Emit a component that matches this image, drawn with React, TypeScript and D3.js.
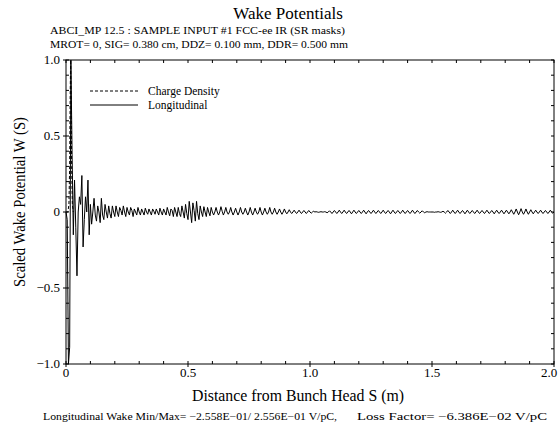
import React from 'react';
import * as d3 from 'd3';

const wakeStep = 0.005;
const wakeValues: number[] = [
  // 0.00 - 0.095
  0, -0.05, -1.0, -0.89, 1.0, 0.38, -0.15, 0.21, -0.1, -0.42, 0.0, 0.1, 0.05, 0.24, -0.23, -0.05, 0.1, 0.0, 0.21, -0.15,
  // 0.10 - 0.195
  0.05, -0.08, 0.0, 0.09, -0.02, -0.06, 0.04, 0.0, -0.07, 0.09, -0.02, -0.05, 0.05, 0.0, -0.04, 0.04, -0.01, -0.04, 0.04, 0.0,
  // 0.20 - 0.295
  -0.03, 0.04, 0.0, -0.03, 0.03, 0.01, -0.02, 0.04, 0.0, -0.03, 0.03, 0.0, -0.02, 0.03, 0.01, -0.03, 0.02, 0.0, -0.02, 0.03,
  // 0.30 - 0.395
  0.0, -0.02, 0.02, 0.0, -0.02, 0.025, 0.0, -0.015, 0.02, 0.0, -0.02, 0.02, 0.005, -0.015, 0.02, 0.0, -0.02, 0.025, 0.0, -0.02,
  // 0.40 - 0.495
  0.02, 0.0, -0.02, 0.03, 0.0, -0.025, 0.02, 0.01, -0.03, 0.03, 0.0, -0.03, 0.03, -0.01, -0.03, 0.04, 0.0, -0.04, 0.05, -0.01,
  // 0.50 - 0.595
  -0.05, 0.07, 0.0, -0.07, 0.06, 0.01, -0.06, 0.07, -0.01, -0.05, 0.04, 0.0, -0.03, 0.035, 0.0, -0.03, 0.03, 0.0, -0.025, 0.03,
  // 0.60 - 0.695
  0.0, -0.02, 0.0, 0.03, 0.0, -0.02, 0.0, 0.035, 0.005, -0.02, 0.0, 0.03, 0.0, -0.015, 0.0, 0.03, 0.0, -0.02, 0.0, 0.025,
  // 0.70 - 0.795
  0.0, -0.02, 0.0, 0.03, 0.0, -0.015, 0.0, 0.025, 0.0, -0.02, 0.0, 0.03, 0.0, -0.02, 0.0, 0.025, 0.0, -0.015, 0.0, 0.03,
  // 0.80 - 0.895
  0.0, -0.02, 0.0, 0.025, 0.0, -0.015, 0.0, 0.03, 0.0, -0.015, 0.0, 0.025, 0.0, -0.015, 0.0, 0.02, 0.0, -0.015, 0.0, 0.02,
  // 0.90 - 0.995
  0.0, -0.012, 0.0, 0.015, 0.0, -0.01, 0.0, 0.012, 0.0, -0.01, 0.0, 0.012, 0.0, -0.01, 0.0, 0.01, 0.0, -0.01, 0.0, 0.01,
  // 1.00 - 1.095
  0.0, -0.008, 0.0, 0.005, 0.0, 0.002, 0.0, -0.002, 0.0, 0.002, 0.0, 0.0, 0.002, 0.0, -0.005, 0.0, 0.008, 0.0, -0.01, 0.0,
  // 1.10 - 1.195
  0.01, 0.0, -0.01, 0.0, 0.012, 0.0, -0.01, 0.0, 0.012, 0.0, -0.01, 0.0, 0.01, 0.0, -0.012, 0.0, 0.012, 0.0, -0.01, 0.0,
  // 1.20 - 1.295
  0.01, 0.0, -0.01, 0.0, 0.012, 0.0, -0.012, 0.0, 0.01, 0.0, -0.01, 0.0, 0.012, 0.0, -0.01, 0.0, 0.01, 0.0, -0.01, 0.0,
  // 1.30 - 1.395
  0.012, 0.0, -0.01, 0.0, 0.01, 0.0, -0.012, 0.0, 0.012, 0.0, -0.01, 0.0, 0.01, 0.0, -0.01, 0.0, 0.012, 0.0, -0.01, 0.0,
  // 1.40 - 1.495
  0.01, 0.0, -0.01, 0.0, 0.012, 0.0, -0.01, 0.0, 0.01, 0.0, -0.008, 0.0, 0.008, 0.0, -0.005, 0.0, 0.002, 0.0, 0.0, 0.0,
  // 1.50 - 1.595
  0.0, 0.0, -0.002, 0.0, 0.0, 0.002, 0.0, -0.002, 0.0, 0.005, 0.0, -0.008, 0.0, 0.01, 0.0, -0.01, 0.0, 0.012, 0.0, -0.01,
  // 1.60 - 1.695
  0.0, 0.012, 0.0, -0.01, 0.0, 0.01, 0.0, -0.012, 0.0, 0.012, 0.0, -0.01, 0.0, 0.01, 0.0, -0.01, 0.0, 0.012, 0.0, -0.01,
  // 1.70 - 1.795
  0.0, 0.01, 0.0, -0.01, 0.0, 0.012, 0.0, -0.01, 0.0, 0.01, 0.0, -0.012, 0.0, 0.012, 0.0, -0.01, 0.0, 0.012, 0.0, -0.012,
  // 1.80 - 1.895
  0.0, 0.012, 0.0, -0.012, 0.0, 0.015, 0.0, -0.015, 0.0, 0.02, 0.0, -0.018, 0.0, 0.022, 0.0, -0.015, 0.0, 0.02, 0.0, -0.015,
  // 1.90 - 2.00
  0.0, 0.015, 0.0, -0.012, 0.0, 0.012, 0.0, -0.01, 0.0, 0.012, 0.0, -0.01, 0.0, 0.01, 0.0, -0.01, 0.0, 0.012, 0.0, -0.008,
  0.0,
];

// Charge density (dashed)
const chargeS = [0, 0.008, 0.012, 0.015, 0.017, 0.019, 0.021, 0.023, 0.026, 0.03];
const chargeValues = [0, 0, 0.05, 0.3, 0.75, 1.0, 0.75, 0.3, 0.05, 0];

const xLabelTicks = [0, 0.5, 1.0, 1.5, 2.0];
const xLabelText = ['0', '0.5', '1.0', '1.5', '2.0'];
const yLabelTicks = [1.0, 0.5, 0, -0.5, -1.0];
const yLabelText = ['1.0', '0.5', '0', '\u22120.5', '\u22121.0'];

const W = 560;
const H = 428;
const font = '"Liberation Serif", "DejaVu Serif", serif';

const App = () => {
  const left = 66, right = 554, top = 60, bottom = 364;
  const x = d3.scaleLinear().domain([0, 2]).range([left, right]);
  const y = d3.scaleLinear().domain([-1, 1]).range([bottom, top]);

  const line = d3.line<[number, number]>()
    .x(d => x(d[0]))
    .y(d => y(d[1]));

  const wakePts: [number, number][] = wakeValues.map((v, i) => [i * wakeStep, v]);
  const chargePts: [number, number][] = chargeS.map((s, i) => [s, chargeValues[i]]);

  const xMinor = x.ticks(20);
  const yMinor = y.ticks(20);

  return (
    <svg width={W} height={H} style={{ position: 'absolute', left: 0, top: 0, background: '#fff' }}
      fontFamily={font}>
      {/* titles */}
      <text x={288} y={19} textAnchor="middle" fontSize={17}>Wake Potentials</text>
      <text x={50} y={34} fontSize={10.5} textLength={295} lengthAdjust="spacingAndGlyphs">
        ABCI_MP 12.5 :  SAMPLE INPUT #1  FCC-ee IR (SR masks)
      </text>
      <text x={50} y={48} fontSize={10.5} textLength={298} lengthAdjust="spacingAndGlyphs">
        MROT= 0,  SIG= 0.380 cm,  DDZ= 0.100 mm,  DDR= 0.500 mm
      </text>

      {/* data */}
      <path d={line(chargePts) || ''} fill="none" stroke="#000" strokeWidth={1} strokeDasharray="3,2" />
      <path d={line(wakePts) || ''} fill="none" stroke="#000" strokeWidth={1} />

      {/* frame */}
      <rect x={left} y={top} width={right - left} height={bottom - top} fill="none" stroke="#000" strokeWidth={1} />

      {/* minor ticks, inward on all sides */}
      {xMinor.map((t, i) => (
        <g key={'xm' + i}>
          <line x1={x(t)} x2={x(t)} y1={bottom} y2={bottom - 3} stroke="#000" />
          <line x1={x(t)} x2={x(t)} y1={top} y2={top + 3} stroke="#000" />
        </g>
      ))}
      {yMinor.map((t, i) => (
        <g key={'ym' + i}>
          <line x1={left} x2={left + 3} y1={y(t)} y2={y(t)} stroke="#000" />
          <line x1={right} x2={right - 3} y1={y(t)} y2={y(t)} stroke="#000" />
        </g>
      ))}

      {/* labelled ticks */}
      {xLabelTicks.map((t, i) => (
        <g key={'xl' + i}>
          <line x1={x(t)} x2={x(t)} y1={bottom} y2={bottom + 3} stroke="#000" />
          <text x={Math.min(x(t), 549)} y={377} textAnchor="middle" fontSize={13}>{xLabelText[i]}</text>
        </g>
      ))}
      {yLabelTicks.map((t, i) => (
        <g key={'yl' + i}>
          <line x1={left} x2={left - 3} y1={y(t)} y2={y(t)} stroke="#000" />
          <text x={60} y={y(t) + 4} textAnchor="end" fontSize={13}>{yLabelText[i]}</text>
        </g>
      ))}

      {/* axis titles */}
      <text x={298} y={401} textAnchor="middle" fontSize={16} textLength={212} lengthAdjust="spacingAndGlyphs">
        Distance from Bunch Head S (m)
      </text>
      <text transform="translate(25,202) rotate(-90)" textAnchor="middle" fontSize={16}
        textLength={170} lengthAdjust="spacingAndGlyphs">
        Scaled Wake Potential W (S)
      </text>

      {/* legend */}
      <line x1={90} x2={138} y1={91} y2={91} stroke="#000" strokeDasharray="3,2" />
      <text x={148} y={95} fontSize={11.5}>Charge Density</text>
      <line x1={90} x2={138} y1={105} y2={105} stroke="#000" />
      <text x={148} y={109} fontSize={11.5}>Longitudinal</text>

      {/* footer */}
      <text x={43} y={420} fontSize={10} textLength={294} lengthAdjust="spacingAndGlyphs">
        Longitudinal Wake  Min/Max= {'\u2212'}2.558E{'\u2212'}01/ 2.556E{'\u2212'}01 V/pC,
      </text>
      <text x={357} y={420} fontSize={10} textLength={190} lengthAdjust="spacingAndGlyphs">
        Loss Factor= {'\u2212'}6.386E{'\u2212'}02 V/pC
      </text>
    </svg>
  );
};

export default App;
